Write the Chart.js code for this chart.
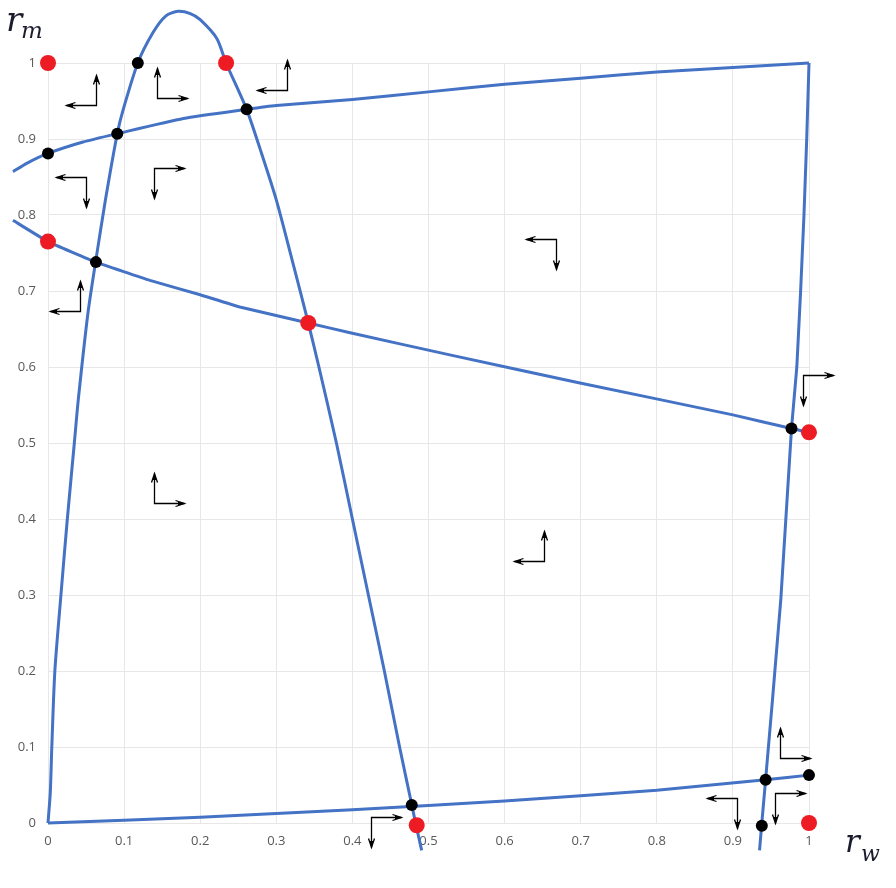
<!DOCTYPE html>
<html>
<head>
<meta charset="utf-8">
<title>r_w / r_m phase diagram</title>
<script src="https://cdn.jsdelivr.net/npm/chart.js@4.4.1/dist/chart.umd.min.js"></script>
<style>
  html, body { margin: 0; padding: 0; background: #fff; }
  #wrap { width: 896px; height: 888px; }
</style>
</head>
<body>
<div id="wrap"><canvas id="chart" width="896" height="888"></canvas></div>
<script>
// axis ticks
const tickValues = [0, 0.1, 0.2, 0.3, 0.4, 0.5, 0.6, 0.7, 0.8, 0.9, 1];
const tickLabels = ['0', '0.1', '0.2', '0.3', '0.4', '0.5', '0.6', '0.7', '0.8', '0.9', '1'];

// hump shaped curve (from origin over the top and back down)
const humpX = [0, 0.003, 0.005, 0.009, 0.017, 0.0254, 0.0346, 0.0398, 0.0525, 0.0625, 0.0755, 0.091, 0.0986,
               0.118, 0.138, 0.155, 0.171, 0.187, 0.2, 0.222, 0.234, 0.261, 0.279, 0.3, 0.321,
               0.342, 0.356, 0.379, 0.4, 0.421, 0.442, 0.462, 0.478, 0.483, 0.491];
const humpY = [0, 0.04, 0.1, 0.2, 0.3, 0.4, 0.5, 0.557, 0.671, 0.738, 0.82, 0.907, 0.938,
               1.0, 1.04, 1.062, 1.068, 1.065, 1.057, 1.032, 1.0, 0.939, 0.886, 0.82, 0.74,
               0.658, 0.6, 0.5, 0.4, 0.3, 0.2, 0.1, 0.024, 0, -0.036];

// upper curve, listed from (1, 1) back to its left end
const upperX = [1, 0.9, 0.8, 0.7, 0.6, 0.5, 0.4, 0.3, 0.261, 0.178, 0.091, 0.046, 0, -0.028, -0.046];
const upperY = [1, 0.994, 0.988, 0.98, 0.972, 0.962, 0.952, 0.944, 0.939, 0.927, 0.907, 0.896, 0.881, 0.868, 0.857];

// near vertical curve falling from (1, 1)
const rightX = [1, 0.997, 0.9934, 0.989, 0.984, 0.977, 0.963, 0.952, 0.943, 0.938, 0.935];
const rightY = [1, 0.9, 0.8, 0.7, 0.6, 0.519, 0.295, 0.162, 0.057, 0, -0.036];

// falling middle curve
const middleX = [-0.046, 0, 0.063, 0.134, 0.2, 0.252, 0.342, 0.397, 0.528, 0.699, 0.9, 0.977, 1, 1.037];
const middleY = [0.793, 0.765, 0.738, 0.714, 0.695, 0.679, 0.658, 0.645, 0.616, 0.579, 0.537, 0.519, 0.514, 0.508];

// low curve from the origin
const bottomX = [0, 0.2, 0.4, 0.6, 0.8, 0.943, 1, 1.038];
const bottomY = [0, 0.0075, 0.0175, 0.029, 0.043, 0.057, 0.063, 0.066];

// red points
const redX = [0, 0.234, 0, 0.342, 1, 0.4845, 1];
const redY = [1, 1, 0.765, 0.658, 0.514, -0.003, 0];

// black points
const blackX = [0.118, 0.261, 0, 0.091, 0.063, 0.977, 0.478, 0.943, 1, 0.938];
const blackY = [1, 0.939, 0.881, 0.907, 0.738, 0.519, 0.0237, 0.057, 0.063, -0.0035];

// direction arrows: corner position, horizontal sense (+1 right), vertical sense (+1 up)
const arrowX = [0.063, 0.143, 0.314, 0.05, 0.139, 0.042, 0.139, 0.668, 0.992, 0.652, 0.424, 0.962, 0.905, 0.955];
const arrowY = [0.945, 0.954, 0.964, 0.85, 0.862, 0.674, 0.421, 0.768, 0.589, 0.345, 0.008, 0.086, 0.033, 0.039];
const arrowH = [-1, 1, -1, -1, 1, -1, 1, -1, 1, -1, 1, 1, -1, 1];
const arrowV = [1, 1, 1, -1, -1, 1, 1, -1, -1, 1, -1, 1, -1, -1];

const blue = '#4472C4';

function pts(xs, ys) {
  return xs.map((x, i) => ({ x: x, y: ys[i] }));
}

function curve(xs, ys, tension) {
  return {
    data: pts(xs, ys),
    showLine: true,
    borderColor: blue,
    borderWidth: 3,
    pointRadius: 0,
    tension: tension,
    clip: false,
    order: 3
  };
}

function drawHead(ctx, x, y, dx, dy) {
  // open arrow head pointing along (dx, dy)
  const len = 9, half = 3;
  const bx = x - dx * len, by = y - dy * len;
  ctx.beginPath();
  ctx.moveTo(bx - dy * half, by + dx * half);
  ctx.lineTo(x, y);
  ctx.lineTo(bx + dy * half, by - dx * half);
  ctx.stroke();
  ctx.fillRect(x - dx * 5 - 1.5, y - dy * 5 - 1.5, 3, 3);
}

const arrowPlugin = {
  id: 'arrows',
  afterDatasetsDraw(chart) {
    const ctx = chart.ctx;
    const xs = chart.scales.x, ys = chart.scales.y;
    const arm = 30;
    ctx.save();
    ctx.strokeStyle = '#000';
    ctx.fillStyle = '#000';
    ctx.lineWidth = 1.3;
    for (let i = 0; i < arrowX.length; i++) {
      const cx = Math.round(xs.getPixelForValue(arrowX[i])) + 0.5;
      const cy = Math.round(ys.getPixelForValue(arrowY[i])) + 0.5;
      const hx = cx + arrowH[i] * arm;
      const vy = cy - arrowV[i] * arm;
      ctx.beginPath();
      ctx.moveTo(hx, cy);
      ctx.lineTo(cx, cy);
      ctx.lineTo(cx, vy);
      ctx.stroke();
      drawHead(ctx, hx, cy, arrowH[i], 0);
      drawHead(ctx, cx, vy, 0, -arrowV[i]);
    }
    ctx.restore();
  }
};

const axisTitlePlugin = {
  id: 'axisTitles',
  afterDraw(chart) {
    const ctx = chart.ctx;
    ctx.save();
    ctx.fillStyle = '#1b1b2e';
    ctx.textBaseline = 'alphabetic';
    ctx.font = 'italic 34px "DejaVu Serif", serif';
    ctx.fillText('r', 6, 31);
    ctx.font = 'italic 23px "DejaVu Serif", serif';
    ctx.fillText('m', 21, 38);
    ctx.font = 'italic 31px "DejaVu Serif", serif';
    ctx.fillText('r', 845, 852);
    ctx.font = 'italic 22px "DejaVu Serif", serif';
    ctx.fillText('w', 861, 861);
    ctx.restore();
  }
};

function fixedTicks(scale) {
  scale.ticks = tickValues.map(v => ({ value: v }));
}

const tickFont = { family: '"Open Sans", sans-serif', size: 13 };

new Chart(document.getElementById('chart'), {
  type: 'scatter',
  data: {
    datasets: [
      { data: pts(redX, redY), pointRadius: 8, pointHoverRadius: 8, backgroundColor: '#ED1C24', borderWidth: 0, clip: false, order: 0 },
      { data: pts(blackX, blackY), pointRadius: 6, pointHoverRadius: 6, backgroundColor: '#000', borderWidth: 0, clip: false, order: 1 },
      curve(humpX, humpY, 0.25),
      curve(upperX, upperY, 0.2),
      curve(rightX, rightY, 0),
      curve(middleX, middleY, 0.1),
      curve(bottomX, bottomY, 0.1)
    ]
  },
  options: {
    responsive: false,
    animation: false,
    layout: { padding: { top: 63, right: 87, bottom: 35, left: 0 } },
    plugins: {
      legend: { display: false },
      tooltip: { enabled: false }
    },
    scales: {
      x: {
        type: 'linear',
        min: 0,
        max: 1,
        afterBuildTicks: fixedTicks,
        afterFit(scale) { scale.height = 30; },
        grid: { color: '#e7e7e7', lineWidth: 1, drawTicks: false },
        border: { display: false },
        ticks: {
          padding: 10,
          color: '#595959',
          font: tickFont,
          maxRotation: 0,
          autoSkip: false,
          callback: (v, i) => tickLabels[i]
        }
      },
      y: {
        type: 'linear',
        min: 0,
        max: 1,
        afterBuildTicks: fixedTicks,
        afterFit(scale) { scale.width = 48; },
        grid: { color: '#e7e7e7', lineWidth: 1, drawTicks: false },
        border: { display: false },
        ticks: {
          padding: 12,
          color: '#595959',
          font: tickFont,
          autoSkip: false,
          callback: (v, i) => tickLabels[i]
        }
      }
    }
  },
  plugins: [arrowPlugin, axisTitlePlugin]
});
</script>
</body>
</html>
